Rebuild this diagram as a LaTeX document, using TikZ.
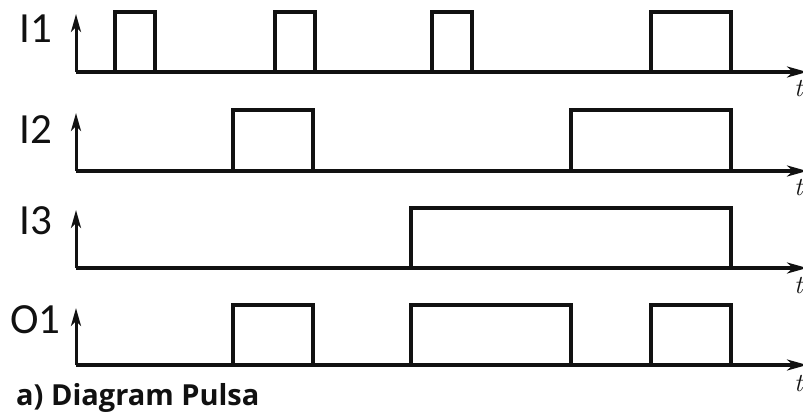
\documentclass[tikz,border=0pt]{standalone}
\usepackage{fontspec}
\setmainfont{Carlito}
\newfontfamily\capfont{Open Sans}
\usetikzlibrary{arrows.meta}
\definecolor{ink}{HTML}{111111}
\tikzset{
  sig/.style={draw=ink, line width=3.2pt, line join=miter},
  yax/.style={draw=ink, line width=3pt, -{Stealth[length=18pt,width=10pt,inset=5pt]}},
  tax/.style={draw=ink, line width=3.2pt, -{Stealth[length=20pt,width=11pt,inset=6pt]}},
  lab/.style={anchor=base west, inner sep=0pt, font=\fontsize{43}{43}\selectfont, text=ink},
  tlab/.style={anchor=base west, inner sep=0pt, font=\fontfamily{lmr}\fontsize{26}{26}\itshape\selectfont, text=ink},
}
\begin{document}
\begin{tikzpicture}[x=1pt,y=-1pt]
\useasboundingbox[fill=white] (0,0) rectangle (803,414);
% row 1 : I1
\node[lab] (l1) at (19,43) {I1};
\coordinate (o1) at (76,72);
\coordinate (e1) at (807,72);
\coordinate (y1) at (76,14);
\draw[tax] (o1) -- (e1);
\draw[yax] (o1) -- (y1);
\node[tlab] (t1) at (794,97) {t};
\draw[sig] (o1) -- (115,72) -- (115,12) -- (155,12) -- (155,72) -- (275,72) -- (275,12) -- (315,12) -- (315,72)
  -- (432,72) -- (432,12) -- (472,12) -- (472,72) -- (651,72) -- (651,12) -- (731,12) -- (731,72) -- (760,72);
% row 2 : I2
\node[lab] (l2) at (19,144) {I2};
\coordinate (o2) at (76,171);
\coordinate (e2) at (807,171);
\coordinate (y2) at (76,113);
\draw[tax] (o2) -- (e2);
\draw[yax] (o2) -- (y2);
\node[tlab] (t2) at (794,196) {t};
\draw[sig] (o2) -- (233,171) -- (233,110) -- (313,110) -- (313,171) -- (571,171) -- (571,110) -- (731,110) -- (731,171) -- (760,171);
% row 3 : I3
\node[lab] (l3) at (19,235) {I3};
\coordinate (o3) at (76,268);
\coordinate (e3) at (807,268);
\coordinate (y3) at (76,210);
\draw[tax] (o3) -- (e3);
\draw[yax] (o3) -- (y3);
\node[tlab] (t3) at (794,293) {t};
\draw[sig] (o3) -- (411,268) -- (411,208) -- (731,208) -- (731,268) -- (760,268);
% row 4 : O1
\node[lab] (l4) at (10,333) {O1};
\coordinate (o4) at (76,365);
\coordinate (e4) at (807,365);
\coordinate (y4) at (76,308);
\draw[tax] (o4) -- (e4);
\draw[yax] (o4) -- (y4);
\node[tlab] (t4) at (794,391) {t};
\draw[sig] (o4) -- (233,365) -- (233,305) -- (313,305) -- (313,365) -- (411,365) -- (411,305) -- (571,305) -- (571,365)
  -- (651,365) -- (651,305) -- (731,305) -- (731,365) -- (760,365);
% caption
\node[anchor=base west, inner sep=0pt, font=\capfont\bfseries\fontsize{29}{29}\selectfont, text=ink] (cap) at (16,405) {a) Diagram Pulsa};
\end{tikzpicture}
\end{document}
